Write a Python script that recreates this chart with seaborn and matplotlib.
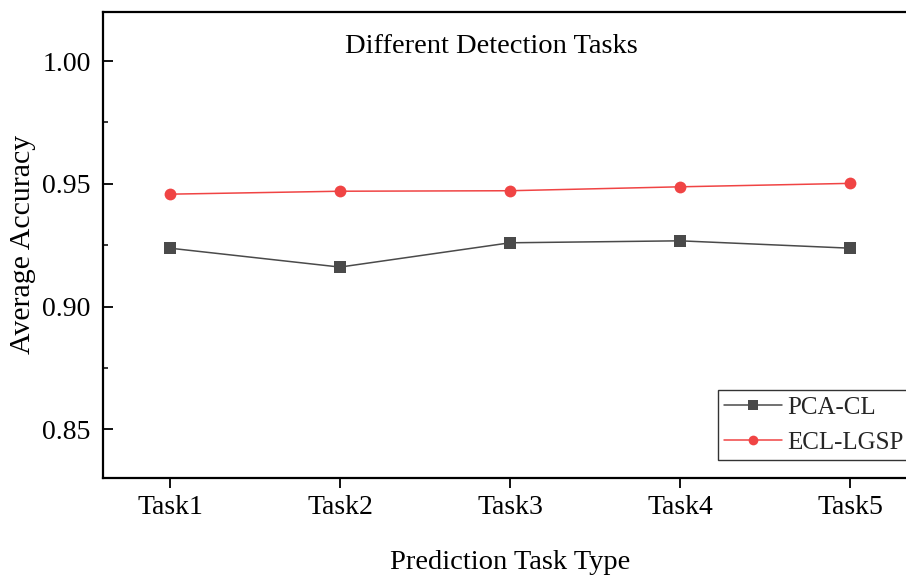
import matplotlib
matplotlib.use("Agg")
import matplotlib.pyplot as plt
import seaborn as sns
import pandas as pd

tasks = ["Task1", "Task2", "Task3", "Task4", "Task5"]
pca_cl = [0.9238, 0.9161, 0.9260, 0.9268, 0.9238]
ecl_lgsp = [0.9458, 0.9470, 0.9472, 0.9488, 0.9502]
y_ticks = [0.85, 0.90, 0.95, 1.00]

sns.set_theme(style="white")
plt.rcParams["font.family"] = ["Liberation Serif", "DejaVu Serif"]

df = pd.DataFrame({
    "task": tasks * 2,
    "acc": pca_cl + ecl_lgsp,
    "method": ["PCA-CL"] * len(tasks) + ["ECL-LGSP"] * len(tasks),
})

fig = plt.figure(figsize=(9.06, 5.78), dpi=100)
ax = fig.add_axes([103 / 906, 100 / 578, 814 / 906, 466.5 / 578])

palette = {"PCA-CL": "#4a4a4a", "ECL-LGSP": "#f04444"}
sns.lineplot(data=df, x="task", y="acc", hue="method", style="method",
             markers={"PCA-CL": "s", "ECL-LGSP": "o"}, dashes=False,
             palette=palette, linewidth=1.1, markersize=8.5,
             markeredgewidth=0, ax=ax)

ax.set_xlim(-0.394, 4.394)
ax.set_ylim(0.8302, 1.0202)
ax.set_yticks(y_ticks)
ax.set_yticklabels([f"{v:.2f}" for v in y_ticks])
ax.set_yticks([0.875, 0.925, 0.975], minor=True)

for s in ax.spines.values():
    s.set_linewidth(1.6)
    s.set_color("black")

ax.tick_params(axis="y", which="major", direction="in", length=7, width=1.3,
               labelsize=20, pad=9, left=True, colors="black")
ax.tick_params(axis="y", which="minor", direction="in", length=3.5, width=1.3,
               left=True)
ax.tick_params(axis="x", direction="out", length=7, width=1.3,
               labelsize=20, pad=5, bottom=True, colors="black")

ax.set_xlabel("Prediction Task Type", fontsize=20.5, labelpad=22, color="black")
ax.set_ylabel("Average Accuracy", fontsize=21.5, labelpad=4, color="black")

ax.text(0.477, 0.926, "Different Detection Tasks", transform=ax.transAxes,
        ha="center", va="center", fontsize=20.5, color="black")

leg = ax.legend(loc="lower left", bbox_to_anchor=(0.7555, 0.0386),
                fontsize=18, frameon=True, fancybox=False, edgecolor="black",
                handlelength=2.3, handletextpad=0.2, labelspacing=0.5,
                borderpad=0.25, borderaxespad=0)
leg.get_frame().set_linewidth(1.0)
for h in leg.legend_handles:
    h.set_markersize(7)

fig.savefig("out.png", dpi=100)
